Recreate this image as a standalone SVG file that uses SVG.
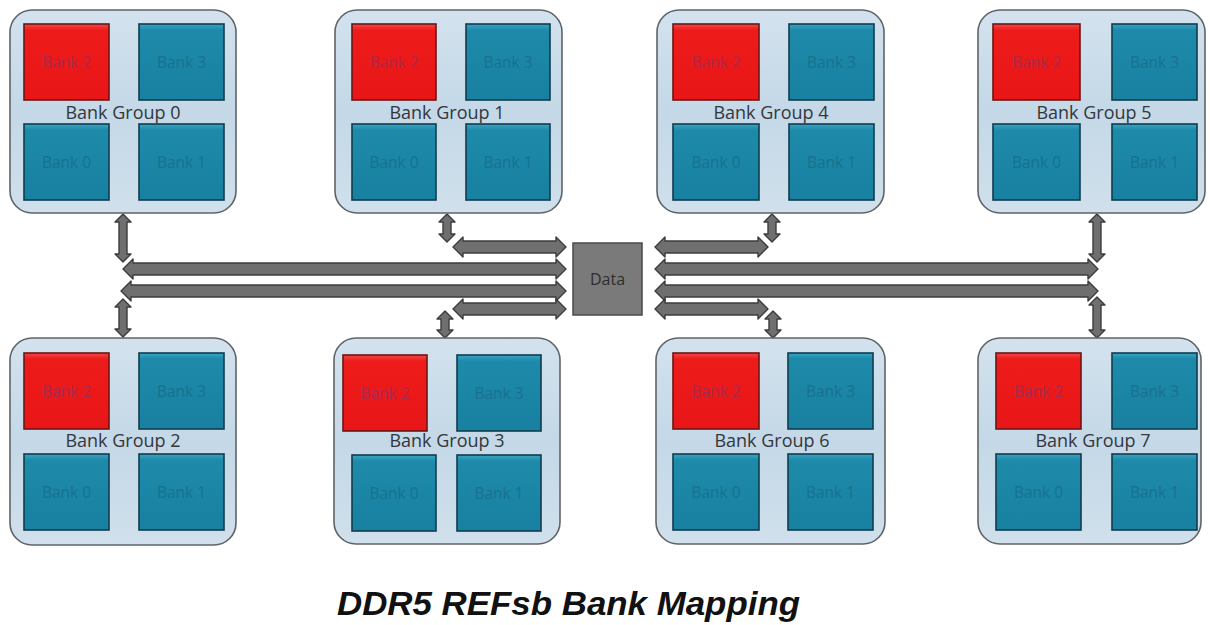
<svg xmlns="http://www.w3.org/2000/svg" width="1210" height="625" viewBox="0 0 1210 625">
<defs>
<linearGradient id="gBox" x1="0" y1="0" x2="0" y2="1">
<stop offset="0" stop-color="#d3e2ee"/>
<stop offset="0.5" stop-color="#c4d8e7"/>
<stop offset="1" stop-color="#d0e0ec"/>
</linearGradient>
<linearGradient id="gRed" x1="0" y1="0" x2="0" y2="1">
<stop offset="0" stop-color="#f24848"/>
<stop offset="0.08" stop-color="#ee1b1b"/>
<stop offset="1" stop-color="#e81616"/>
</linearGradient>
<linearGradient id="gBlue" x1="0" y1="0" x2="0" y2="1">
<stop offset="0" stop-color="#3aa4c4"/>
<stop offset="0.08" stop-color="#1e8aaa"/>
<stop offset="1" stop-color="#1880a0"/>
</linearGradient>
<style>
.grp{fill:url(#gBox);stroke:#5f6468;stroke-width:1.6}
.red{fill:url(#gRed);stroke:#6e1414;stroke-width:1.6}
.blue{fill:url(#gBlue);stroke:#0f3c4c;stroke-width:1.6}
.gl{font-family:"Open Sans","Liberation Sans",sans-serif;font-size:18px;fill:#33373c;text-anchor:middle}
.bl{font-family:"Open Sans","Liberation Sans",sans-serif;font-size:15.5px;fill:#18728f;text-anchor:middle}
.rl{font-family:"Open Sans","Liberation Sans",sans-serif;font-size:15.5px;fill:#a82a52;text-anchor:middle}
.arr{fill:#6f6f6f;stroke:#3c3c3c;stroke-width:1.4;stroke-linejoin:round}
.data{fill:#7a7a7a;stroke:#4a4a4a;stroke-width:1.5}
.dt{font-family:"Open Sans","Liberation Sans",sans-serif;font-size:16px;fill:#2e2e2e;text-anchor:middle}
.title{font-family:"Liberation Sans",Arial,sans-serif;font-size:34px;font-weight:bold;font-style:italic;fill:#111}
</style>
</defs>
<rect width="1210" height="625" fill="#ffffff"/>

<g id="connectors">
<path class="arr" d="M453 247 L463 237 L463 241 L556 241 L556 237 L566 247 L556 257 L556 253 L463 253 L463 257 Z"/>
<path class="arr" d="M123 269 L133 259 L133 263 L556 263 L556 259 L566 269 L556 279 L556 275 L133 275 L133 279 Z"/>
<path class="arr" d="M121 291 L131 281 L131 285 L556 285 L556 281 L566 291 L556 301 L556 297 L131 297 L131 301 Z"/>
<path class="arr" d="M453 309 L463 299 L463 303 L556 303 L556 299 L566 309 L556 319 L556 315 L463 315 L463 319 Z"/>
<path class="arr" d="M655 247 L665 237 L665 241 L758 241 L758 237 L768 247 L758 257 L758 253 L665 253 L665 257 Z"/>
<path class="arr" d="M655 269 L665 259 L665 263 L1088 263 L1088 259 L1098 269 L1088 279 L1088 275 L665 275 L665 279 Z"/>
<path class="arr" d="M655 291 L665 281 L665 285 L1088 285 L1088 281 L1098 291 L1088 301 L1088 297 L665 297 L665 301 Z"/>
<path class="arr" d="M655 309 L665 299 L665 303 L758 303 L758 299 L768 309 L758 319 L758 315 L665 315 L665 319 Z"/>
<path class="arr" d="M123 214 L131 222 L127 222 L127 254 L131 254 L123 262 L115 254 L119 254 L119 222 L115 222 Z"/>
<path class="arr" d="M123 299 L131 307 L127 307 L127 329 L131 329 L123 337 L115 329 L119 329 L119 307 L115 307 Z"/>
<path class="arr" d="M447 214 L455 222 L451 222 L451 234 L455 234 L447 242 L439 234 L443 234 L443 222 L439 222 Z"/>
<path class="arr" d="M445 311 L453 319 L449 319 L449 330 L453 330 L445 338 L437 330 L441 330 L441 319 L437 319 Z"/>
<path class="arr" d="M772 214 L780 222 L776 222 L776 234 L780 234 L772 242 L764 234 L768 234 L768 222 L764 222 Z"/>
<path class="arr" d="M773 311 L781 319 L777 319 L777 330 L781 330 L773 338 L765 330 L769 330 L769 319 L765 319 Z"/>
<path class="arr" d="M1097 214 L1105 222 L1101 222 L1101 254 L1105 254 L1097 262 L1089 254 L1093 254 L1093 222 L1089 222 Z"/>
<path class="arr" d="M1097 297 L1105 305 L1101 305 L1101 330 L1105 330 L1097 338 L1089 330 L1093 330 L1093 305 L1089 305 Z"/>
</g>

<g id="data">
<rect class="data" x="573" y="243" width="69" height="72"/>
<text class="dt" x="607.5" y="285">Data</text>
</g>

<g id="bg0">
<rect class="grp" x="10" y="10" width="226" height="203" rx="22"/>
<rect class="red" x="24" y="24" width="85" height="76"/><text class="rl" x="66.5" y="68">Bank 2</text>
<rect class="blue" x="139" y="24" width="85" height="76"/><text class="bl" x="181.5" y="68">Bank 3</text>
<rect class="blue" x="24" y="124" width="85" height="76"/><text class="bl" x="66.5" y="168">Bank 0</text>
<rect class="blue" x="139" y="124" width="85" height="76"/><text class="bl" x="181.5" y="168">Bank 1</text>
<text class="gl" x="123" y="119">Bank Group 0</text>
</g>

<g id="bg1">
<rect class="grp" x="335" y="10" width="227" height="203" rx="22"/>
<rect class="red" x="352" y="24" width="84" height="76"/><text class="rl" x="394" y="68">Bank 2</text>
<rect class="blue" x="466" y="24" width="84" height="76"/><text class="bl" x="508" y="68">Bank 3</text>
<rect class="blue" x="352" y="124" width="84" height="76"/><text class="bl" x="394" y="168">Bank 0</text>
<rect class="blue" x="466" y="124" width="84" height="76"/><text class="bl" x="508" y="168">Bank 1</text>
<text class="gl" x="447" y="119">Bank Group 1</text>
</g>

<g id="bg4">
<rect class="grp" x="657" y="10" width="227" height="203" rx="22"/>
<rect class="red" x="673" y="24" width="86" height="76"/><text class="rl" x="716" y="68">Bank 2</text>
<rect class="blue" x="789" y="24" width="85" height="76"/><text class="bl" x="831.5" y="68">Bank 3</text>
<rect class="blue" x="673" y="124" width="86" height="76"/><text class="bl" x="716" y="168">Bank 0</text>
<rect class="blue" x="789" y="124" width="85" height="76"/><text class="bl" x="831.5" y="168">Bank 1</text>
<text class="gl" x="771" y="119">Bank Group 4</text>
</g>

<g id="bg5">
<rect class="grp" x="978" y="10" width="227" height="203" rx="22"/>
<rect class="red" x="993" y="24" width="87" height="76"/><text class="rl" x="1036.5" y="68">Bank 2</text>
<rect class="blue" x="1112" y="24" width="85" height="76"/><text class="bl" x="1154.5" y="68">Bank 3</text>
<rect class="blue" x="993" y="124" width="87" height="76"/><text class="bl" x="1036.5" y="168">Bank 0</text>
<rect class="blue" x="1112" y="124" width="85" height="76"/><text class="bl" x="1154.5" y="168">Bank 1</text>
<text class="gl" x="1094" y="119">Bank Group 5</text>
</g>

<g id="bg2">
<rect class="grp" x="10" y="338" width="226" height="207" rx="22"/>
<rect class="red" x="24" y="353" width="85" height="76"/><text class="rl" x="66.5" y="397">Bank 2</text>
<rect class="blue" x="139" y="353" width="85" height="76"/><text class="bl" x="181.5" y="397">Bank 3</text>
<rect class="blue" x="24" y="454" width="85" height="76"/><text class="bl" x="66.5" y="498">Bank 0</text>
<rect class="blue" x="139" y="454" width="85" height="76"/><text class="bl" x="181.5" y="498">Bank 1</text>
<text class="gl" x="123" y="447">Bank Group 2</text>
</g>

<g id="bg3">
<rect class="grp" x="334" y="338" width="226" height="206" rx="22"/>
<rect class="red" x="343" y="355" width="84" height="76"/><text class="rl" x="385" y="399">Bank 2</text>
<rect class="blue" x="457" y="355" width="84" height="76"/><text class="bl" x="499" y="399">Bank 3</text>
<rect class="blue" x="352" y="455" width="84" height="76"/><text class="bl" x="394" y="499">Bank 0</text>
<rect class="blue" x="457" y="455" width="84" height="76"/><text class="bl" x="499" y="499">Bank 1</text>
<text class="gl" x="447" y="447">Bank Group 3</text>
</g>

<g id="bg6">
<rect class="grp" x="656" y="338" width="229" height="206" rx="22"/>
<rect class="red" x="673" y="353" width="86" height="76"/><text class="rl" x="716" y="397">Bank 2</text>
<rect class="blue" x="788" y="353" width="85" height="76"/><text class="bl" x="830.5" y="397">Bank 3</text>
<rect class="blue" x="673" y="454" width="86" height="76"/><text class="bl" x="716" y="498">Bank 0</text>
<rect class="blue" x="788" y="454" width="85" height="76"/><text class="bl" x="830.5" y="498">Bank 1</text>
<text class="gl" x="772" y="447">Bank Group 6</text>
</g>

<g id="bg7">
<rect class="grp" x="978" y="338" width="223" height="206" rx="22"/>
<rect class="red" x="996" y="353" width="85" height="76"/><text class="rl" x="1038.5" y="397">Bank 2</text>
<rect class="blue" x="1112" y="353" width="85" height="76"/><text class="bl" x="1154.5" y="397">Bank 3</text>
<rect class="blue" x="996" y="454" width="85" height="76"/><text class="bl" x="1038.5" y="498">Bank 0</text>
<rect class="blue" x="1112" y="454" width="85" height="76"/><text class="bl" x="1154.5" y="498">Bank 1</text>
<text class="gl" x="1093" y="447">Bank Group 7</text>
</g>

<text class="title" x="337" y="615" textLength="463" lengthAdjust="spacingAndGlyphs">DDR5 REFsb Bank Mapping</text>
</svg>
